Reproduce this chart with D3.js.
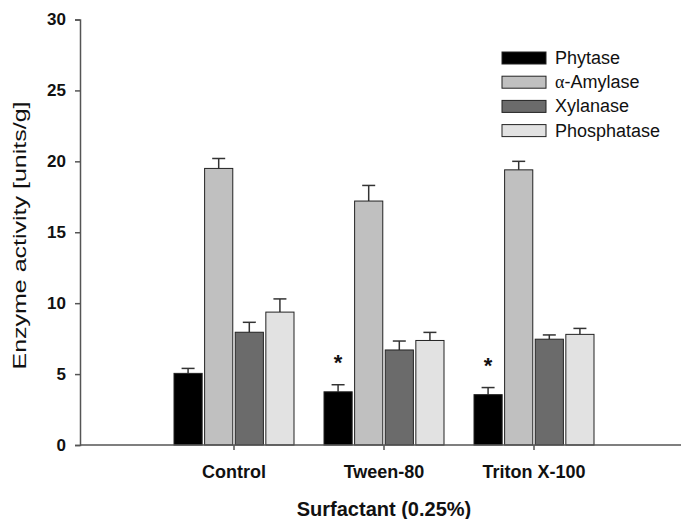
<!DOCTYPE html>
<html>
<head>
<meta charset="utf-8">
<script src="https://cdn.jsdelivr.net/npm/d3@7"></script>
<style>
  body { margin: 0; background: #fff; }
  text { font-family: "Liberation Sans", Arial, sans-serif; }
</style>
</head>
<body>
<div id="chart"></div>
<script>
// data
var categories = ["Control", "Tween-80", "Triton X-100"];
var seriesNames = ["Phytase", "α-Amylase", "Xylanase", "Phosphatase"];
var phytase = [5.05, 3.75, 3.55];
var phytaseErr = [0.35, 0.5, 0.5];
var amylase = [19.5, 17.2, 19.4];
var amylaseErr = [0.7, 1.1, 0.6];
var xylanase = [7.95, 6.7, 7.46];
var xylanaseErr = [0.7, 0.63, 0.3];
var phosphatase = [9.37, 7.37, 7.8];
var phosphataseErr = [0.93, 0.57, 0.42];
var significant = [false, true, true];
var yTicks = [0, 5, 10, 15, 20, 25, 30];

var colors = ["#000000", "#c0c0c0", "#6b6b6b", "#e2e2e2"];
var values = [phytase, amylase, xylanase, phosphatase];
var errors = [phytaseErr, amylaseErr, xylanaseErr, phosphataseErr];

var svgWidth = 681;
var svgHeight = 519;
var axisX = 80;
var axisY = 445;

var svg = d3.select("#chart")
  .append("svg")
  .attr("width", svgWidth)
  .attr("height", svgHeight);

// scales
var x = d3.scaleBand()
  .domain(categories)
  .range([84, 684])
  .paddingInner(0.2)
  .paddingOuter(0.6);

var xInner = d3.scaleBand()
  .domain(seriesNames)
  .range([0, x.bandwidth()])
  .paddingInner(0.08);

var y = d3.scaleLinear()
  .domain([0, 30])
  .range([axisY, 19.5]);

// flatten into rows for drawing
var rows = [];
categories.forEach(function(c, ci) {
  seriesNames.forEach(function(s, si) {
    rows.push({cat: c, ci: ci, name: s, si: si, value: values[si][ci], err: errors[si][ci]});
  });
});

// error bars (upper only), drawn under the bars
var errG = svg.append("g")
  .attr("stroke", "#333")
  .attr("stroke-width", 1.5);

rows.forEach(function(d) {
  var cx = x(d.cat) + xInner(d.name) + xInner.bandwidth() / 2;
  errG.append("line")
    .attr("x1", cx).attr("x2", cx)
    .attr("y1", y(d.value)).attr("y2", y(d.value + d.err));
  errG.append("line")
    .attr("x1", cx - 6.5).attr("x2", cx + 6.5)
    .attr("y1", y(d.value + d.err)).attr("y2", y(d.value + d.err));
});

// bars
svg.append("g")
  .selectAll("rect")
  .data(rows)
  .enter()
  .append("rect")
  .attr("x", d => x(d.cat) + xInner(d.name))
  .attr("y", d => y(d.value))
  .attr("width", xInner.bandwidth())
  .attr("height", d => axisY - y(d.value))
  .attr("fill", d => colors[d.si])
  .attr("stroke", "#222")
  .attr("stroke-width", 1);

// significance stars over phytase
rows.filter(d => d.si === 0 && significant[d.ci]).forEach(function(d) {
  svg.append("text")
    .attr("x", x(d.cat) + xInner(d.name) + xInner.bandwidth() / 2)
    .attr("y", y(d.value + d.err) - 15)
    .attr("text-anchor", "middle")
    .style("font-size", "22px")
    .style("font-weight", "bold")
    .attr("fill", "#111")
    .text("*");
});

// y axis
var leftAxis = d3.axisLeft(y)
  .tickValues(yTicks)
  .tickSizeOuter(0)
  .tickSize(5)
  .tickPadding(9);

var yAxisG = svg.append("g")
  .attr("transform", `translate(${axisX}, 0)`)
  .call(leftAxis);
yAxisG.select(".domain").attr("stroke", "#555").attr("stroke-width", 1.5);
yAxisG.selectAll(".tick line").attr("stroke", "#555").attr("stroke-width", 1.5);
yAxisG.selectAll(".tick text")
  .style("font-family", "'Liberation Sans', Arial, sans-serif")
  .style("font-size", "17px")
  .style("font-weight", "bold")
  .attr("fill", "#111");

// x axis
var bottomAxis = d3.axisBottom(x)
  .tickSizeOuter(0)
  .tickSize(5)
  .tickPadding(15);

var xAxisG = svg.append("g")
  .attr("transform", `translate(0, ${axisY})`)
  .call(bottomAxis);
xAxisG.select(".domain").remove();
xAxisG.selectAll(".tick line").attr("stroke", "#555").attr("stroke-width", 1.5);
xAxisG.selectAll(".tick text")
  .style("font-family", "'Liberation Sans', Arial, sans-serif")
  .style("font-size", "18px")
  .style("font-weight", "bold")
  .attr("fill", "#111");

// baseline from the y axis to the right edge
svg.append("line")
  .attr("x1", axisX).attr("x2", svgWidth)
  .attr("y1", axisY).attr("y2", axisY)
  .attr("stroke", "#555")
  .attr("stroke-width", 1.5);

// axis titles
svg.append("text")
  .attr("x", 384)
  .attr("y", 516)
  .attr("text-anchor", "middle")
  .style("font-size", "20px")
  .style("font-weight", "bold")
  .attr("fill", "#111")
  .text("Surfactant (0.25%)");

svg.append("text")
  .attr("transform", "rotate(-90)")
  .attr("x", -235.5)
  .attr("y", 26)
  .attr("text-anchor", "middle")
  .attr("textLength", 268)
  .attr("lengthAdjust", "spacingAndGlyphs")
  .style("font-size", "19px")
  .attr("fill", "#111")
  .text("Enzyme activity [units/g]");

// legend
var legend = svg.append("g")
  .attr("transform", "translate(502, 52)");

seriesNames.forEach(function(s, i) {
  var row = legend.append("g")
    .attr("transform", `translate(0, ${i * 24.2})`);
  row.append("rect")
    .attr("width", 44)
    .attr("height", 12)
    .attr("fill", colors[i])
    .attr("stroke", "#222")
    .attr("stroke-width", 1);
  var t = row.append("text")
    .attr("x", 53)
    .attr("y", 12)
    .style("font-size", "18px")
    .attr("fill", "#111");
  if (s.charAt(0) === "α") {
    t.append("tspan")
      .style("font-family", "'Liberation Serif', 'DejaVu Serif', serif")
      .text("α");
    t.append("tspan").text(s.slice(1));
  } else {
    t.text(s);
  }
});
</script>
</body>
</html>
